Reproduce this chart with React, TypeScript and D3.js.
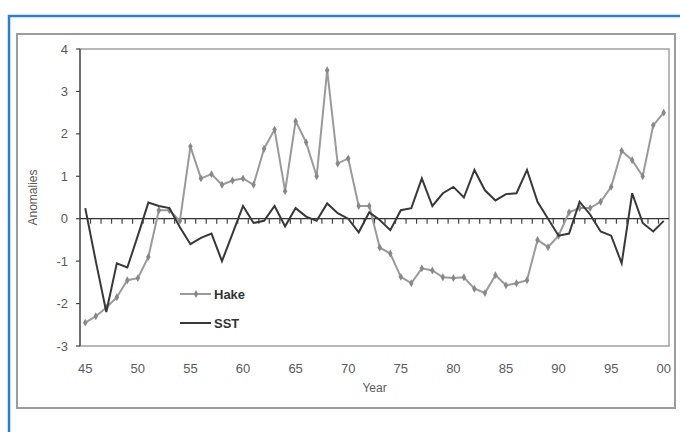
import React, { useEffect, useRef } from 'react';
import * as d3 from 'd3';

const years = [
  1945, 1946, 1947, 1948, 1949, 1950, 1951, 1952, 1953, 1954,
  1955, 1956, 1957, 1958, 1959, 1960, 1961, 1962, 1963, 1964,
  1965, 1966, 1967, 1968, 1969, 1970, 1971, 1972, 1973, 1974,
  1975, 1976, 1977, 1978, 1979, 1980, 1981, 1982, 1983, 1984,
  1985, 1986, 1987, 1988, 1989, 1990, 1991, 1992, 1993, 1994,
  1995, 1996, 1997, 1998, 1999, 2000
];

const hake = [
  -2.45, -2.3, -2.1, -1.85, -1.45, -1.4, -0.9, 0.2, 0.2, -0.05,
  1.7, 0.95, 1.05, 0.8, 0.9, 0.95, 0.8, 1.65, 2.1, 0.65,
  2.3, 1.8, 1.0, 3.5, 1.3, 1.42, 0.3, 0.3, -0.68, -0.82,
  -1.37, -1.52, -1.17, -1.22, -1.38, -1.4, -1.38, -1.65, -1.75, -1.33,
  -1.57, -1.52, -1.45, -0.5, -0.67, -0.4, 0.15, 0.25, 0.25, 0.4,
  0.75, 1.6, 1.38, 1.0, 2.2, 2.5
];

const sst = [
  0.25, -1.0, -2.2, -1.05, -1.15, -0.4, 0.38, 0.3, 0.25, -0.2,
  -0.6, -0.45, -0.35, -1.0, -0.35, 0.3, -0.1, -0.05, 0.3, -0.18,
  0.25, 0.05, -0.05, 0.36, 0.13, 0.0, -0.32, 0.15, -0.03, -0.27,
  0.2, 0.25, 0.95, 0.3, 0.6, 0.75, 0.5, 1.15, 0.67, 0.43,
  0.58, 0.6, 1.15, 0.4, 0.0, -0.4, -0.35, 0.4, 0.1, -0.3,
  -0.4, -1.05, 0.6, -0.1, -0.3, -0.05
];

const xTickYears = [1945, 1950, 1955, 1960, 1965, 1970, 1975, 1980, 1985, 1990, 1995, 2000];
const xTickLabels = ['45', '50', '55', '60', '65', '70', '75', '80', '85', '90', '95', '00'];
const yTicks = [-3, -2, -1, 0, 1, 2, 3, 4];

export default function App(): JSX.Element {
  const svgRef = useRef<SVGSVGElement>(null);

  useEffect(() => {
    const el = svgRef.current;
    if (el == null) return;
    const svg = d3.select(el);
    svg.selectAll('*').remove();

    const HAKE_COLOR = '#9a9a9a';
    const SST_COLOR = '#383838';
    const TEXT_COLOR = '#5a5a5a';
    const font = '"Liberation Sans", Arial, sans-serif';

    // plot area
    const left = 80, right = 669, top = 49, bottom = 346;

    const x = d3.scaleBand<number>().domain(years).range([left, right]);
    const cx = (yr: number) => (x(yr) || 0) + x.bandwidth() / 2;
    const y = d3.scaleLinear().domain([-3, 4]).range([bottom, top]);

    // blue outer frame
    svg.append('rect')
      .attr('x', 9).attr('y', 16).attr('width', 680).attr('height', 430)
      .attr('fill', 'none').attr('stroke', '#2b7fd2').attr('stroke-width', 2.5);

    // grey chart frame
    svg.append('rect')
      .attr('x', 17).attr('y', 34).attr('width', 658).attr('height', 374)
      .attr('fill', '#fff').attr('stroke', '#9c9c9c').attr('stroke-width', 2);

    // plot area border
    svg.append('rect')
      .attr('x', left).attr('y', top).attr('width', right - left).attr('height', bottom - top)
      .attr('fill', '#fff').attr('stroke', '#a0a0a0').attr('stroke-width', 1.5);

    // y axis
    svg.append('line')
      .attr('x1', left).attr('x2', left).attr('y1', top).attr('y2', bottom)
      .attr('stroke', '#444').attr('stroke-width', 1.2);
    const yg = svg.append('g');
    yg.selectAll('line').data(yTicks).enter().append('line')
      .attr('x1', left - 4).attr('x2', left)
      .attr('y1', (d) => y(d)).attr('y2', (d) => y(d))
      .attr('stroke', '#444').attr('stroke-width', 1.2);
    yg.selectAll('text').data(yTicks).enter().append('text')
      .attr('x', left - 12).attr('y', (d) => y(d) + 4.5)
      .attr('text-anchor', 'end')
      .attr('font-family', font).attr('font-size', 13)
      .attr('fill', TEXT_COLOR)
      .text((d) => String(d));

    // zero line with category ticks
    svg.append('line')
      .attr('x1', left).attr('x2', right).attr('y1', y(0)).attr('y2', y(0))
      .attr('stroke', '#333').attr('stroke-width', 1.2);
    svg.append('g').selectAll('line').data(years.slice(1)).enter().append('line')
      .attr('x1', (d) => x(d) || 0).attr('x2', (d) => x(d) || 0)
      .attr('y1', y(0)).attr('y2', y(0) + 5)
      .attr('stroke', '#444').attr('stroke-width', 1.2);

    // x labels
    svg.append('g').selectAll('text').data(xTickYears).enter().append('text')
      .attr('x', (d) => cx(d)).attr('y', 373)
      .attr('text-anchor', 'middle')
      .attr('font-family', font).attr('font-size', 13)
      .attr('fill', TEXT_COLOR)
      .text((d, i) => xTickLabels[i]);

    // axis titles
    svg.append('text')
      .attr('x', (left + right) / 2).attr('y', 392)
      .attr('text-anchor', 'middle')
      .attr('font-family', font).attr('font-size', 12)
      .attr('fill', TEXT_COLOR)
      .text('Year');
    svg.append('text')
      .attr('transform', `translate(37, ${(top + bottom) / 2}) rotate(-90)`)
      .attr('text-anchor', 'middle')
      .attr('font-family', font).attr('font-size', 12)
      .attr('fill', TEXT_COLOR)
      .text('Anomalies');

    const line = d3.line<number>()
      .x((d, i) => cx(years[i]))
      .y((d) => y(d));

    // hake series
    svg.append('path').datum(hake)
      .attr('d', line).attr('fill', 'none')
      .attr('stroke', HAKE_COLOR).attr('stroke-width', 2);
    const diamond = d3.symbol().type(d3.symbolDiamond).size(18);
    svg.append('g').selectAll('path').data(hake).enter().append('path')
      .attr('d', diamond)
      .attr('transform', (d, i) => `translate(${cx(years[i])},${y(d)})`)
      .attr('fill', '#888');

    // sst series
    svg.append('path').datum(sst)
      .attr('d', line).attr('fill', 'none')
      .attr('stroke', SST_COLOR).attr('stroke-width', 2);

    // legend
    const lg = svg.append('g');
    lg.append('line').attr('x1', 180).attr('x2', 211).attr('y1', 294).attr('y2', 294)
      .attr('stroke', HAKE_COLOR).attr('stroke-width', 2);
    lg.append('path').attr('d', diamond).attr('transform', 'translate(196,294)').attr('fill', '#888');
    lg.append('text').attr('x', 214).attr('y', 299)
      .attr('font-family', font).attr('font-size', 13).attr('font-weight', 'bold')
      .attr('fill', '#333').text('Hake');
    lg.append('line').attr('x1', 180).attr('x2', 211).attr('y1', 323).attr('y2', 323)
      .attr('stroke', SST_COLOR).attr('stroke-width', 2);
    lg.append('text').attr('x', 214).attr('y', 328)
      .attr('font-family', font).attr('font-size', 13).attr('font-weight', 'bold')
      .attr('fill', '#333').text('SST');
  });

  return (
    <svg
      ref={svgRef}
      width={680}
      height={432}
      style={{ position: 'absolute', left: 0, top: 0, background: '#fff' }}
    />
  );
}
